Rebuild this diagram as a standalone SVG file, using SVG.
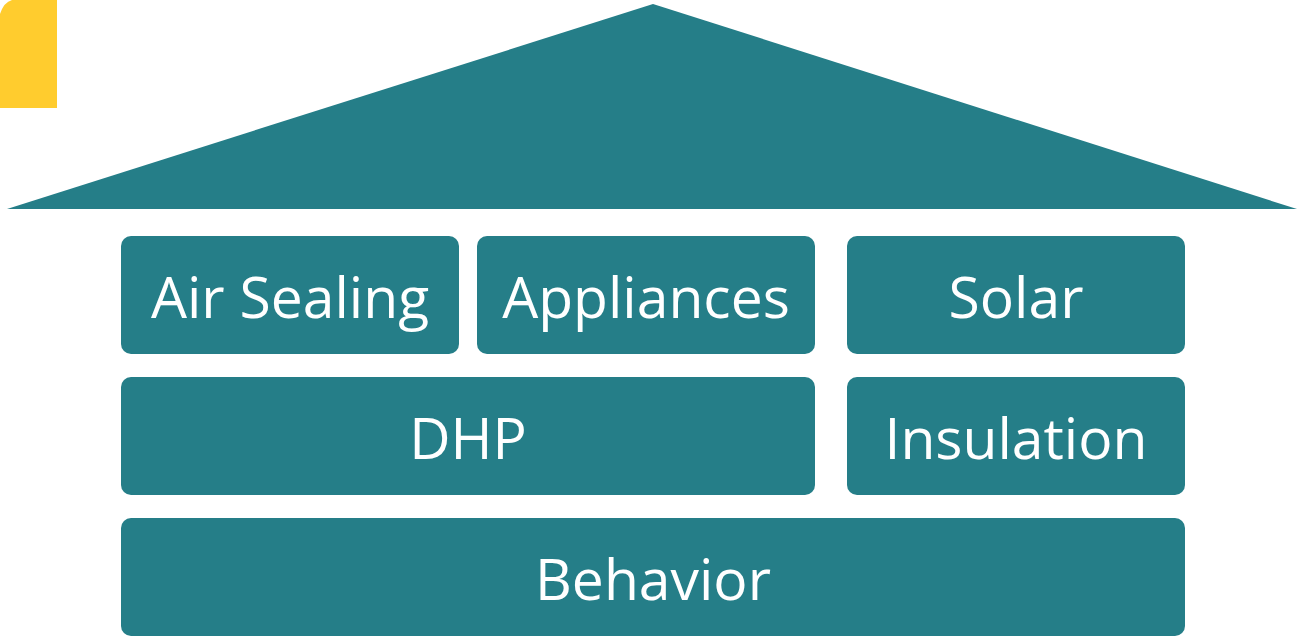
<svg xmlns="http://www.w3.org/2000/svg" width="1297" height="638" viewBox="0 0 1297 638">
<style>
.box{fill:#257E88}
.lbl{font-family:"Open Sans","Noto Sans",sans-serif;font-size:57px;fill:#FFFFFF;text-anchor:middle}
</style>
<path d="M0,14 Q4,2 12,0 L57,0 L57,108 L0,108 Z" fill="#FFCC2E"/>
<polygon points="653,4 1297,209 7,209" fill="#257E88"/>
<g id="air-sealing"><rect class="box" x="121" y="236" width="338" height="118" rx="10"/><text class="lbl" x="290" y="318">Air Sealing</text></g>
<g id="appliances"><rect class="box" x="477" y="236" width="338" height="118" rx="10"/><text class="lbl" x="646" y="318">Appliances</text></g>
<g id="solar"><rect class="box" x="847" y="236" width="338" height="118" rx="10"/><text class="lbl" x="1016" y="318">Solar</text></g>
<g id="dhp"><rect class="box" x="121" y="377" width="694" height="118" rx="10"/><text class="lbl" x="468" y="459">DHP</text></g>
<g id="insulation"><rect class="box" x="847" y="377" width="338" height="118" rx="10"/><text class="lbl" x="1016" y="459">Insulation</text></g>
<g id="behavior"><rect class="box" x="121" y="518" width="1064" height="118" rx="10"/><text class="lbl" x="653" y="600">Behavior</text></g>
<g id="connectors"/>
</svg>
